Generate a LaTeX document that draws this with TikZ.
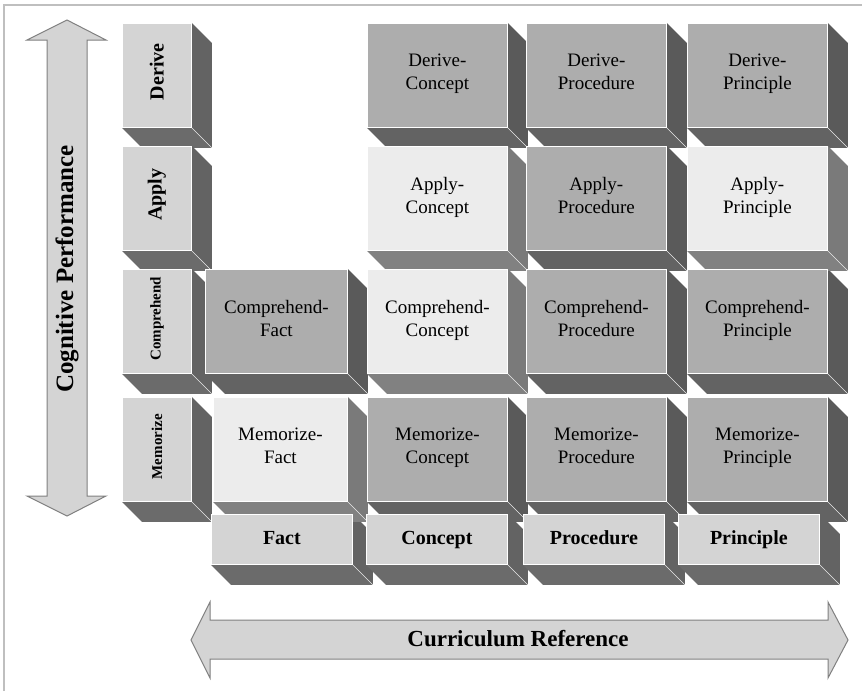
\documentclass[tikz,border=0pt]{standalone}
\usepackage{fontspec}
\setmainfont{Liberation Serif}
\usepackage{graphicx}
\usepackage{tikz}
\pgfdeclarelayer{background}
\pgfsetlayers{background,main}

\definecolor{lbl}{HTML}{D4D4D4}
\definecolor{lblR}{HTML}{636363}
\definecolor{lblB}{HTML}{6B6B6B}
\definecolor{mid}{HTML}{ADADAD}
\definecolor{midR}{HTML}{5A5A5A}
\definecolor{midB}{HTML}{636363}
\definecolor{light}{HTML}{ECECEC}
\definecolor{lightR}{HTML}{7A7A7A}
\definecolor{lightB}{HTML}{818181}

\begin{document}
\begin{tikzpicture}[x=1pt,y=-1pt,
    face/.style={draw=white,line width=0.8pt,inner sep=0pt,anchor=north west,
      minimum height=104pt,align=center,font=\fontsize{19}{23}\selectfont,
      execute at begin node=\strut,execute at end node=\strut},
    cellmid/.style={face,fill=mid,minimum width=140pt},
    celllight/.style={face,fill=light,minimum width=140pt},
    rowhead/.style={face,fill=lbl,minimum width=69pt,font=\bfseries\fontsize{20}{24}\selectfont,
      execute at begin node={},execute at end node={}},
    colhead/.style={face,fill=lbl,minimum width=141pt,minimum height=50pt,
      font=\bfseries\fontsize{20}{24}\selectfont},
    arrowbody/.style={fill=lbl,draw=gray,line width=1pt,line join=miter}]
  \useasboundingbox (0,0) rectangle (862,691);
  \draw[gray!50,line width=1.5pt] (4,691) -- (4,5) -- (862,5);

  % axes
  \draw[arrowbody] (67,20) -- (106,40) -- (87,40) -- (87,496) -- (106,496) -- (67,516)
    -- (27,496) -- (47,496) -- (47,40) -- (27,40) -- cycle;
  \node[rotate=90,font=\bfseries\fontsize{25}{28}\selectfont] (perf) at (67,269) {Cognitive Performance};
  \draw[arrowbody] (191,640) -- (210,602) -- (210,620) -- (828,620) -- (828,602) -- (848,640)
    -- (828,678) -- (828,659) -- (210,659) -- (210,678) -- cycle;
  \node[font=\bfseries\fontsize{23}{26}\selectfont] (curr) at (518,639) {Curriculum Reference};

  % row heads
  \node[rowhead] (hd) at (122,23) {\rotatebox{90}{Derive}};
  \node[rowhead] (ha) at (122,146) {\rotatebox{90}{Apply}};
  \node[rowhead,font=\bfseries\fontsize{15}{18}\selectfont] (hc) at (122,269) {\rotatebox{90}{Comprehend}};
  \node[rowhead,font=\bfseries\fontsize{15}{18}\selectfont] (hm) at (122,397) {\rotatebox{90}{Memorize}};

  % cells
  \node[cellmid] (dc) at (367,23) {Derive-\\Concept};
  \node[cellmid] (dp) at (526,23) {Derive-\\Procedure};
  \node[cellmid] (dr) at (687,23) {Derive-\\Principle};
  \node[celllight] (ac) at (367,146) {Apply-\\Concept};
  \node[cellmid] (ap) at (526,146) {Apply-\\Procedure};
  \node[celllight] (ar) at (687,146) {Apply-\\Principle};
  \node[cellmid,minimum width=142pt] (cf) at (205,269) {Comprehend-\\Fact};
  \node[celllight] (cc) at (367,269) {Comprehend-\\Concept};
  \node[cellmid] (cp) at (526,269) {Comprehend-\\Procedure};
  \node[cellmid] (cr) at (687,269) {Comprehend-\\Principle};
  \node[celllight,minimum width=134pt] (mf) at (213,397) {Memorize-\\Fact};
  \node[cellmid] (mc) at (367,397) {Memorize-\\Concept};
  \node[cellmid] (mp) at (526,397) {Memorize-\\Procedure};
  \node[cellmid] (mr) at (687,397) {Memorize-\\Principle};

  % column heads
  \node[colhead] (fact) at (211,514) {Fact};
  \node[colhead] (concept) at (366,514) {Concept};
  \node[colhead] (procedure) at (523,514) {Procedure};
  \node[colhead] (principle) at (678,514) {Principle};

  % depth of the blocks
  \begin{pgfonlayer}{background}
    \foreach \n in {hd,ha,hc,hm,fact,concept,procedure,principle} {
      \fill[lblR] (\n.north east) -- ++(20,20) -- ([shift={(20,20)}]\n.south east) -- (\n.south east) -- cycle;
      \fill[lblB] (\n.south west) -- (\n.south east) -- ([shift={(20,20)}]\n.south east) -- ([shift={(20,20)}]\n.south west) -- cycle;
      \draw[white!80!gray,line width=0.6pt] (\n.south east) -- ++(20,20);
    }
    \foreach \n in {dc,dp,dr,ap,cf,cp,cr,mc,mp,mr} {
      \fill[midR] (\n.north east) -- ++(20,20) -- ([shift={(20,20)}]\n.south east) -- (\n.south east) -- cycle;
      \fill[midB] (\n.south west) -- (\n.south east) -- ([shift={(20,20)}]\n.south east) -- ([shift={(20,20)}]\n.south west) -- cycle;
      \draw[white!80!gray,line width=0.6pt] (\n.south east) -- ++(20,20);
    }
    \foreach \n in {ac,ar,cc,mf} {
      \fill[lightR] (\n.north east) -- ++(20,20) -- ([shift={(20,20)}]\n.south east) -- (\n.south east) -- cycle;
      \fill[lightB] (\n.south west) -- (\n.south east) -- ([shift={(20,20)}]\n.south east) -- ([shift={(20,20)}]\n.south west) -- cycle;
      \draw[white!80!gray,line width=0.6pt] (\n.south east) -- ++(20,20);
    }
  \end{pgfonlayer}
\end{tikzpicture}
\end{document}
